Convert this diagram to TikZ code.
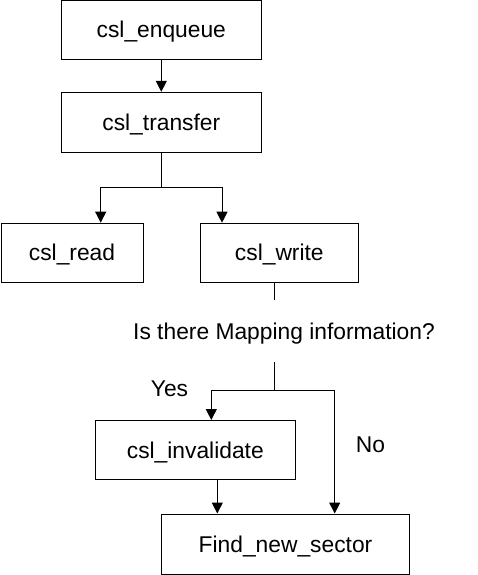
\documentclass[tikz,border=0pt]{standalone}
\usepackage{fontspec}
\setmainfont{Liberation Sans}
\usetikzlibrary{arrows.meta}
\begin{document}
\begin{tikzpicture}[x=1pt,y=-1pt,
  box/.style={draw,line width=1pt,rectangle,inner sep=0pt,text height=16pt,text depth=0pt,font=\fontsize{22.8}{27}\selectfont},
  lbl/.style={inner sep=0pt,text height=16pt,text depth=0pt,font=\fontsize{22.8}{27}\selectfont},
  conn/.style={line width=1pt},
  arr/.style={line width=1pt,-{Triangle[length=11pt,width=11pt]}}]
\useasboundingbox (0,0) rectangle (477,575);
\node[box,minimum width=200pt,minimum height=59pt] (enq) at (161.3,29.7) {csl\_enqueue};
\node[box,minimum width=200pt,minimum height=60pt] (tra) at (161.3,122.3) {csl\_transfer};
\node[box,minimum width=142pt,minimum height=59pt] (rd) at (72,252.7) {csl\_read};
\node[box,minimum width=158pt,minimum height=59pt] (wr) at (279.3,252.7) {csl\_write};
\node[lbl,minimum height=61.7pt] (q) at (284,331) {Is there Mapping information?};
\node[box,minimum width=200pt,minimum height=59pt] (inv) at (195.3,450) {csl\_invalidate};
\node[box,minimum width=247.6pt,minimum height=60pt] (fns) at (285.5,544) {Find\_new\_sector};
\node[lbl] (yes) at (169.5,388.7) {Yes};
\node[lbl] (no) at (370.5,444.7) {No};
\coordinate (j1) at (161.3,187.3);
\coordinate (j2) at (274,390);
\draw[arr] (enq.south) -- (tra.north);
\draw[conn] (tra.south) -- (j1);
\draw[arr] (j1) -| ([xshift=28.7pt]rd.north);
\draw[arr] (j1) -| ([xshift=-57.3pt]wr.north);
\draw[conn] ([xshift=-5.3pt]wr.south) -- ([xshift=-10pt]q.north);
\draw[conn] ([xshift=-10pt]q.south) -- (j2);
\draw[arr] (j2) -| ([xshift=16pt]inv.north);
\draw[arr] (j2) -| ([xshift=49.2pt]fns.north);
\draw[arr] ([xshift=22pt]inv.south) -- ([xshift=22pt]inv.south |- fns.north);
\end{tikzpicture}
\end{document}
